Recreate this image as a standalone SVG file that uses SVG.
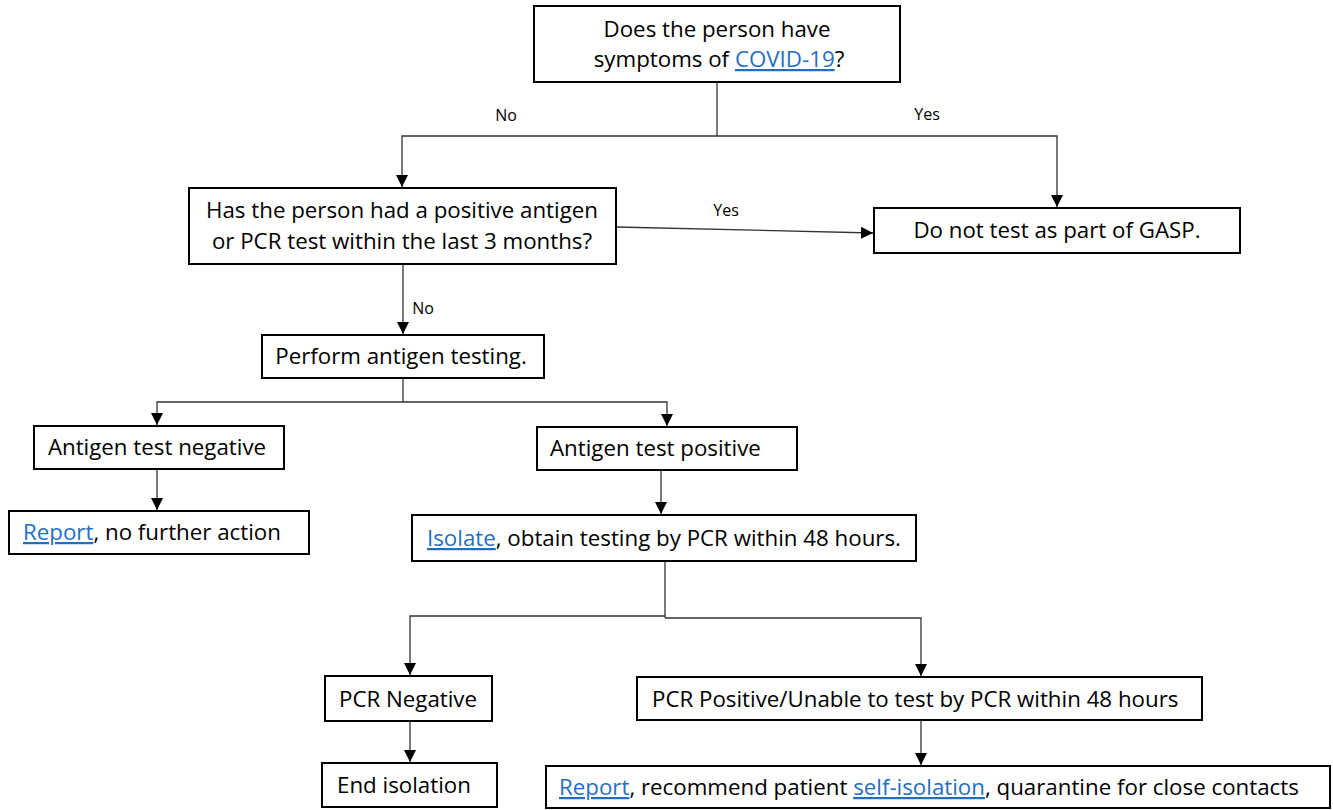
<svg xmlns="http://www.w3.org/2000/svg" width="1333" height="810" viewBox="0 0 1333 810">
<style>
.box{fill:#fff;stroke:#000;stroke-width:2}
.t{font-family:"Open Sans","Noto Sans",sans-serif;font-size:22.3px;fill:#000}
.c{text-anchor:middle}
.lbl{font-family:"Open Sans","Noto Sans",sans-serif;font-size:16px;fill:#000;text-anchor:middle}
.lnk{fill:#1F6FC5;text-decoration:underline}
.cn{fill:none;stroke:#333;stroke-width:1.3}
</style>
<defs>
<marker id="ah" markerUnits="userSpaceOnUse" markerWidth="12" markerHeight="12" viewBox="0 0 12 12" refX="12" refY="6" orient="auto">
<path d="M0,0 L12,6 L0,12 Z" fill="#000"/>
</marker>
</defs>
<g id="connectors">
<path class="cn" d="M717,82 V136"/>
<path class="cn" d="M717,136 H402 V187" marker-end="url(#ah)"/>
<path class="cn" d="M717,136 H1057 V207" marker-end="url(#ah)"/>
<path class="cn" d="M616,227 L873,233" marker-end="url(#ah)"/>
<path class="cn" d="M403,264 V334" marker-end="url(#ah)"/>
<path class="cn" d="M403,378 V402"/>
<path class="cn" d="M403,402 H157 V425" marker-end="url(#ah)"/>
<path class="cn" d="M403,402 H667 V426" marker-end="url(#ah)"/>
<path class="cn" d="M157,469 V510" marker-end="url(#ah)"/>
<path class="cn" d="M661,470 V514" marker-end="url(#ah)"/>
<path class="cn" d="M665,561 V618"/>
<path class="cn" d="M665,616 H410 V675" marker-end="url(#ah)"/>
<path class="cn" d="M665,618 H921 V676" marker-end="url(#ah)"/>
<path class="cn" d="M410,721 V762" marker-end="url(#ah)"/>
<path class="cn" d="M921,720 V765" marker-end="url(#ah)"/>
<text class="lbl" x="506" y="121">No</text>
<text class="lbl" x="927" y="120">Yes</text>
<text class="lbl" x="726" y="216">Yes</text>
<text class="lbl" x="423" y="314">No</text>
</g>
<g id="symptoms">
<rect class="box" x="534" y="6" width="366" height="76"/>
<text class="t c" x="717" y="37">Does the person have</text>
<text class="t c" x="719" y="67">symptoms of <tspan class="lnk">COVID-19</tspan>?</text>
</g>
<g id="positive-test">
<rect class="box" x="189" y="188" width="427" height="76"/>
<text class="t c" x="402" y="218">Has the person had a positive antigen</text>
<text class="t c" x="402" y="249">or PCR test within the last 3 months?</text>
</g>
<g id="do-not-test">
<rect class="box" x="874" y="208" width="366" height="45"/>
<text class="t c" x="1057" y="238">Do not test as part of GASP.</text>
</g>
<g id="perform">
<rect class="box" x="262" y="335" width="282" height="43"/>
<text class="t c" x="401" y="364">Perform antigen testing.</text>
</g>
<g id="antigen-negative">
<rect class="box" x="34" y="426" width="250" height="43"/>
<text class="t c" x="157" y="455">Antigen test negative</text>
</g>
<g id="report-no-action">
<rect class="box" x="9" y="511" width="300" height="43"/>
<text class="t" x="23" y="540"><tspan class="lnk">Report</tspan>, no further action</text>
</g>
<g id="antigen-positive">
<rect class="box" x="537" y="427" width="260" height="43"/>
<text class="t" x="550" y="456">Antigen test positive</text>
</g>
<g id="isolate">
<rect class="box" x="412" y="515" width="504" height="46"/>
<text class="t" x="427" y="546"><tspan class="lnk">Isolate</tspan>, obtain testing by PCR within 48 hours.</text>
</g>
<g id="pcr-negative">
<rect class="box" x="325" y="676" width="167" height="45"/>
<text class="t c" x="408" y="707">PCR Negative</text>
</g>
<g id="pcr-positive">
<rect class="box" x="637" y="677" width="565" height="43"/>
<text class="t" x="652" y="707">PCR Positive/Unable to test by PCR within 48 hours</text>
</g>
<g id="end-isolation">
<rect class="box" x="322" y="763" width="175" height="44"/>
<text class="t" x="337" y="793">End isolation</text>
</g>
<g id="report-self-isolation">
<rect class="box" x="546" y="766" width="784" height="42"/>
<text class="t" x="559" y="795"><tspan class="lnk">Report</tspan>, recommend patient <tspan class="lnk">self-isolation</tspan>, quarantine for close contacts</text>
</g>
</svg>
